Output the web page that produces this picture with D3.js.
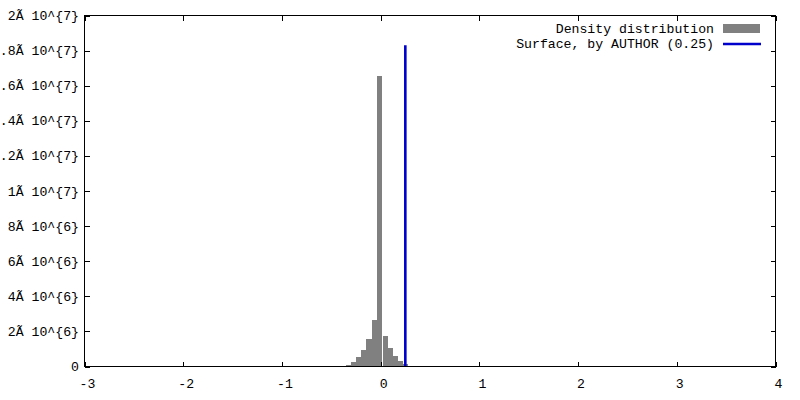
<!DOCTYPE html>
<html>
<head>
<meta charset="utf-8">
<script src="https://cdn.jsdelivr.net/npm/d3@7"></script>
<style>
  html, body { margin: 0; padding: 0; background: #fff; }
  svg { display: block; }
  text { font-family: "Liberation Mono", "DejaVu Sans Mono", monospace; font-size: 13.2px; fill: #000; }
</style>
</head>
<body>
<svg id="chart" width="800" height="400"></svg>
<script>
// ---- data ----
const binCenters = [-0.377, -0.326, -0.276, -0.225, -0.174, -0.118, -0.063, -0.009, 0.046, 0.097, 0.147, 0.198, 0.253, 0.309];
const binCounts  = [0.02e6, 0.07e6, 0.26e6, 0.55e6, 0.93e6, 1.56e6, 2.65e6, 16.57e6, 1.73e6, 1.05e6, 0.59e6, 0.30e6, 0.13e6, 0.04e6];
const binWidth = 0.0528;
const surfaceX = [0.25];
const surfaceTop = [1.83e7];
const xTickValues = [-3, -2, -1, 0, 1, 2, 3, 4];
const xTickLabels = ["-3", "-2", "-1", "0", "1", "2", "3", "4"];
const yTickValues = [0, 2e6, 4e6, 6e6, 8e6, 1e7, 1.2e7, 1.4e7, 1.6e7, 1.8e7, 2e7];
const yTickLabels = ["0", "2Ã 10^{6}", "4Ã 10^{6}", "6Ã 10^{6}", "8Ã 10^{6}", "1Ã 10^{7}",
                     "1.2Ã 10^{7}", "1.4Ã 10^{7}", "1.6Ã 10^{7}", "1.8Ã 10^{7}", "2Ã 10^{7}"];
const legendLabels = ["Density distribution", "Surface, by AUTHOR (0.25)"];

// ---- layout ----
const L = 84.5, R = 775.5, T = 15.5, B = 366.5;
const svg = d3.select("#chart");
const x = d3.scaleLinear().domain([-3, 4]).range([L, R]);
const y = d3.scaleLinear().domain([0, 2e7]).range([B, T]);
const tick = 5;

// histogram bars
svg.append("g").selectAll("rect").data(binCenters).join("rect")
  .attr("x", d => x(d - binWidth / 2))
  .attr("width", d => x(d + binWidth / 2) - x(d - binWidth / 2))
  .attr("y", (d, i) => y(binCounts[i]))
  .attr("height", (d, i) => y(0) - y(binCounts[i]))
  .attr("fill", "#808080")
  .attr("shape-rendering", "crispEdges");

// surface line
svg.append("g").selectAll("line").data(surfaceX).join("line")
  .attr("x1", d => x(d)).attr("x2", d => x(d))
  .attr("y1", y(0)).attr("y2", (d, i) => y(surfaceTop[i]))
  .attr("stroke", "#0000cc").attr("stroke-width", 2.6);

// border
svg.append("rect").attr("x", L).attr("y", T).attr("width", R - L).attr("height", B - T)
  .attr("fill", "none").attr("stroke", "#000").attr("stroke-width", 1)
  .attr("shape-rendering", "crispEdges");

// ticks
const tg = svg.append("g").attr("stroke", "#000").attr("stroke-width", 1).attr("shape-rendering", "crispEdges");
xTickValues.forEach(v => {
  const px = Math.round(x(v)) + 0.5;
  tg.append("line").attr("x1", px).attr("x2", px).attr("y1", B).attr("y2", B - tick);
  tg.append("line").attr("x1", px).attr("x2", px).attr("y1", T).attr("y2", T + tick);
});
yTickValues.forEach(v => {
  const py = Math.round(y(v)) + 0.5;
  tg.append("line").attr("x1", L).attr("x2", L + tick).attr("y1", py).attr("y2", py);
  tg.append("line").attr("x1", R).attr("x2", R - tick).attr("y1", py).attr("y2", py);
});

// tick labels
svg.append("g").selectAll("text").data(xTickValues).join("text")
  .attr("x", d => x(d) + 3).attr("y", 388).attr("text-anchor", "middle")
  .text((d, i) => xTickLabels[i]);
svg.append("g").selectAll("text").data(yTickValues).join("text")
  .attr("x", 79).attr("y", d => y(d) + 4.5).attr("text-anchor", "end")
  .text((d, i) => yTickLabels[i]);

// legend
const lg = svg.append("g");
lg.append("text").attr("x", 714).attr("y", 32.5).attr("text-anchor", "end").text(legendLabels[0]);
lg.append("rect").attr("x", 723).attr("y", 24).attr("width", 37).attr("height", 9).attr("fill", "#808080");
lg.append("text").attr("x", 714).attr("y", 48).attr("text-anchor", "end").text(legendLabels[1]);
lg.append("line").attr("x1", 723).attr("x2", 761).attr("y1", 44).attr("y2", 44)
  .attr("stroke", "#0000cc").attr("stroke-width", 2.6);
</script>
</body>
</html>
